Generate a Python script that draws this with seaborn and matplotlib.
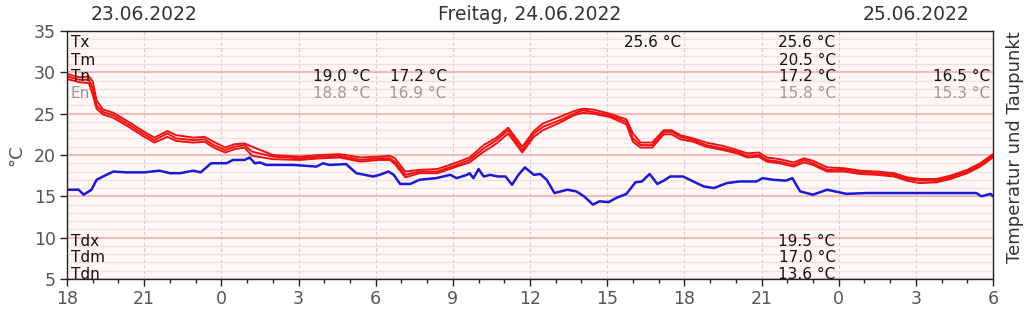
import matplotlib
matplotlib.use("Agg")
import matplotlib.pyplot as plt
import seaborn as sns
import numpy as np
import pandas as pd

# hours since 23.06.2022 18:00
red_hours = [0.0, 0.5, 0.85, 1.0, 1.15, 1.4, 1.8, 2.45, 2.95, 3.4, 3.9, 4.25, 4.9, 5.35, 5.7, 6.15, 6.5, 6.9,
             7.2, 8.0, 9.05, 9.85, 10.6, 11.4, 12.1, 12.55, 12.75, 13.15, 13.7, 14.4, 15.15, 15.65, 16.2, 16.7,
             17.15, 17.7, 18.15, 18.5, 19.15, 19.7, 20.05, 20.45, 21.1, 21.75, 22.0, 22.3, 22.75, 23.2, 23.5,
             23.85, 24.35, 24.85, 25.5, 26.05, 26.45, 26.9, 27.2, 27.7, 28.25, 28.65, 29.0, 29.55, 30.2, 30.85,
             31.5, 32.15, 32.65, 33.15, 33.8, 34.35, 35.0, 35.5, 36.0]
t_mean = [29.5, 29.1, 29.1, 28.1, 26.0, 25.2, 24.8, 23.6, 22.6, 21.8, 22.6, 22.0, 21.8, 21.9, 21.2, 20.6, 21.0, 21.2,
          20.4, 19.8, 19.6, 19.8, 19.9, 19.4, 19.6, 19.6, 19.2, 17.6, 18.0, 18.0, 18.8, 19.4, 20.8, 21.8,
          23.0, 20.6, 22.6, 23.4, 24.2, 25.0, 25.4, 25.2, 24.8, 24.0, 22.0, 21.2, 21.2, 22.8, 22.8,
          22.2, 21.8, 21.2, 20.8, 20.4, 19.9, 20.0, 19.4, 19.2, 18.8, 19.4, 19.0, 18.2, 18.2, 17.9,
          17.8, 17.6, 17.1, 16.9, 16.9, 17.3, 18.0, 18.8, 19.9]
t_max = [29.8, 29.4, 29.5, 28.9, 26.6, 25.5, 25.1, 23.9, 22.9, 22.1, 22.9, 22.4, 22.1, 22.2, 21.6, 20.9, 21.3, 21.4,
         21.0, 20.0, 19.8, 20.0, 20.1, 19.7, 19.8, 19.9, 19.6, 18.0, 18.2, 18.3, 19.1, 19.7, 21.2, 22.1,
         23.3, 21.0, 22.9, 23.8, 24.6, 25.3, 25.6, 25.5, 25.0, 24.3, 22.6, 21.5, 21.5, 23.0, 23.0,
         22.4, 22.0, 21.5, 21.1, 20.6, 20.2, 20.3, 19.7, 19.5, 19.1, 19.6, 19.3, 18.5, 18.4, 18.1,
         18.0, 17.8, 17.3, 17.1, 17.1, 17.5, 18.2, 19.0, 20.1]
t_min = [29.2, 28.8, 28.7, 27.3, 25.6, 24.9, 24.5, 23.3, 22.3, 21.5, 22.2, 21.7, 21.5, 21.6, 20.9, 20.3, 20.7, 20.9,
         19.9, 19.5, 19.4, 19.6, 19.7, 19.2, 19.4, 19.4, 18.9, 17.3, 17.8, 17.8, 18.6, 19.1, 20.4, 21.4,
         22.6, 20.3, 22.2, 23.0, 23.9, 24.8, 25.1, 25.0, 24.6, 23.7, 21.6, 20.9, 20.9, 22.5, 22.5,
         21.9, 21.6, 21.0, 20.6, 20.2, 19.7, 19.8, 19.2, 19.0, 18.6, 19.1, 18.8, 18.0, 18.0, 17.7,
         17.6, 17.4, 16.9, 16.6, 16.7, 17.1, 17.8, 18.6, 19.7]

dew_hours = [0.0, 0.45, 0.65, 0.95, 1.15, 1.4, 1.8, 2.3, 3.0, 3.6, 4.0, 4.4, 4.9, 5.2, 5.6, 6.2, 6.45, 6.9, 7.1,
             7.3, 7.5, 7.75, 8.8, 9.7, 9.95, 10.2, 10.85, 11.25, 11.9, 12.15, 12.5, 12.7, 12.95, 13.35, 13.7,
             14.35, 14.9, 15.15, 15.55, 15.65, 15.8, 16.0, 16.2, 16.45, 16.75, 17.05, 17.3, 17.55, 17.8, 18.15,
             18.4, 18.65, 18.95, 19.45, 19.8, 20.1, 20.45, 20.7, 21.05, 21.35, 21.75, 22.1, 22.35, 22.65, 22.95,
             23.2, 23.45, 23.95, 24.35, 24.75, 25.15, 25.65, 26.15, 26.8, 27.05, 27.45, 27.95, 28.2, 28.5, 29.0,
             29.55, 30.3, 31.1, 31.9, 32.9, 34.2, 35.35, 35.55, 35.9, 36.0]
dew_point = [15.8, 15.8, 15.2, 15.8, 17.0, 17.4, 18.0, 17.9, 17.9, 18.1, 17.8, 17.8, 18.1, 17.9, 19.0, 19.0, 19.4, 19.4, 19.7,
             19.0, 19.1, 18.8, 18.8, 18.6, 19.0, 18.8, 18.9, 17.8, 17.4, 17.6, 18.0, 17.6, 16.5, 16.5, 17.0,
             17.2, 17.6, 17.2, 17.6, 17.8, 17.2, 18.3, 17.4, 17.6, 17.4, 17.4, 16.4, 17.6, 18.5, 17.6,
             17.7, 17.0, 15.4, 15.8, 15.6, 15.0, 14.0, 14.4, 14.3, 14.8, 15.3, 16.7, 16.8, 17.7, 16.5,
             16.9, 17.4, 17.4, 16.8, 16.2, 16.0, 16.6, 16.8, 16.8, 17.2, 17.0, 16.9, 17.2, 15.6, 15.2,
             15.8, 15.3, 15.4, 15.4, 15.4, 15.4, 15.4, 15.0, 15.3, 15.0]

x_tick_pos = list(range(0, 37, 3))
x_tick_labels = ["18", "21", "0", "3", "6", "9", "12", "15", "18", "21", "0", "3", "6"]
y_ticks = [5, 10, 15, 20, 25, 30, 35]

day_labels = ["23.06.2022", "Freitag, 24.06.2022", "25.06.2022"]
day_centers = [3, 18, 33]

sns.set_style("white")
plt.rcParams['font.family'] = ['DejaVu Sans']

fig = plt.figure(figsize=(10.24, 3.09), dpi=100)
ax = fig.add_axes([67/1024, 30/309, 926/1024, 248/309])
ax.set_facecolor("#fff6f6")

# grid
ax.set_xlim(0, 36)
ax.set_ylim(5, 35)
ax.set_yticks(y_ticks)
ax.set_yticks(np.arange(5, 36, 1), minor=True)
ax.set_xticks(x_tick_pos)
ax.set_xticks(np.arange(0, 37, 1), minor=True)
ax.set_xticklabels(x_tick_labels)
ax.grid(which="major", axis="y", color="#f6b4b4", lw=1.3)
ax.grid(which="minor", axis="y", color="#fadada", lw=0.8)
ax.grid(which="major", axis="x", color="#cfcfcf", lw=0.8, ls=(0, (3, 2)))
ax.set_axisbelow(True)

red = "#ee1111"
sns.lineplot(x=red_hours, y=t_max, ax=ax, color=red, lw=1.4, sort=False, estimator=None)
sns.lineplot(x=red_hours, y=t_mean, ax=ax, color=red, lw=1.4, sort=False, estimator=None)
sns.lineplot(x=red_hours, y=t_min, ax=ax, color=red, lw=1.4, sort=False, estimator=None)
sns.lineplot(x=dew_hours, y=dew_point, ax=ax, color="#1a1ad6", lw=1.8, sort=False, estimator=None)

for s in ["top", "right", "left", "bottom"]:
    ax.spines[s].set_visible(True)
    ax.spines[s].set_color("#222222")
    ax.spines[s].set_linewidth(1.0)

ax.tick_params(axis="both", which="major", direction="out", length=5, width=1, colors="#222222",
               labelsize=12.5, labelcolor="#555555", left=True, bottom=True, pad=3)
ax.tick_params(axis="x", which="minor", direction="out", length=3, width=1, colors="#222222", bottom=True)
ax.tick_params(axis="y", which="minor", left=False)

ax.set_ylabel("°C", fontsize=13, color="#555555", labelpad=6)
ax.set_xlabel("")
fig.text(1015/1024, (309 - 147)/309, "Temperatur und Taupunkt", rotation=90, ha="center", va="center",
         fontsize=13, color="#333333")

for lbl, c in zip(day_labels, day_centers):
    ax.text(c, 1.065, lbl, transform=ax.get_xaxis_transform(), ha="center", va="center",
            fontsize=13.5, color="#333333")

# annotation rows
rows = {"Tx": 0.952, "Tm": 0.883, "Tn": 0.815, "En": 0.746, "Tdx": 0.153, "Tdm": 0.085, "Tdn": 0.018}
fs = 11
for k, y in rows.items():
    ax.text(0.004, y, k, transform=ax.transAxes, ha="left", va="center", fontsize=fs,
            color="#999999" if k == "En" else "#111111")

def val(xf, row, s, grey=False):
    ax.text(xf, rows[row], s, transform=ax.transAxes, ha="right", va="center", fontsize=fs,
            color="#999999" if grey else "#111111")

val(0.327, "Tn", "19.0 °C"); val(0.327, "En", "18.8 °C", True)
val(0.410, "Tn", "17.2 °C"); val(0.410, "En", "16.9 °C", True)
val(0.663, "Tx", "25.6 °C")
val(0.830, "Tx", "25.6 °C"); val(0.830, "Tm", "20.5 °C"); val(0.830, "Tn", "17.2 °C")
val(0.830, "En", "15.8 °C", True)
val(0.997, "Tn", "16.5 °C"); val(0.997, "En", "15.3 °C", True)
val(0.830, "Tdx", "19.5 °C"); val(0.830, "Tdm", "17.0 °C"); val(0.830, "Tdn", "13.6 °C")

fig.savefig("out.png", dpi=100)
